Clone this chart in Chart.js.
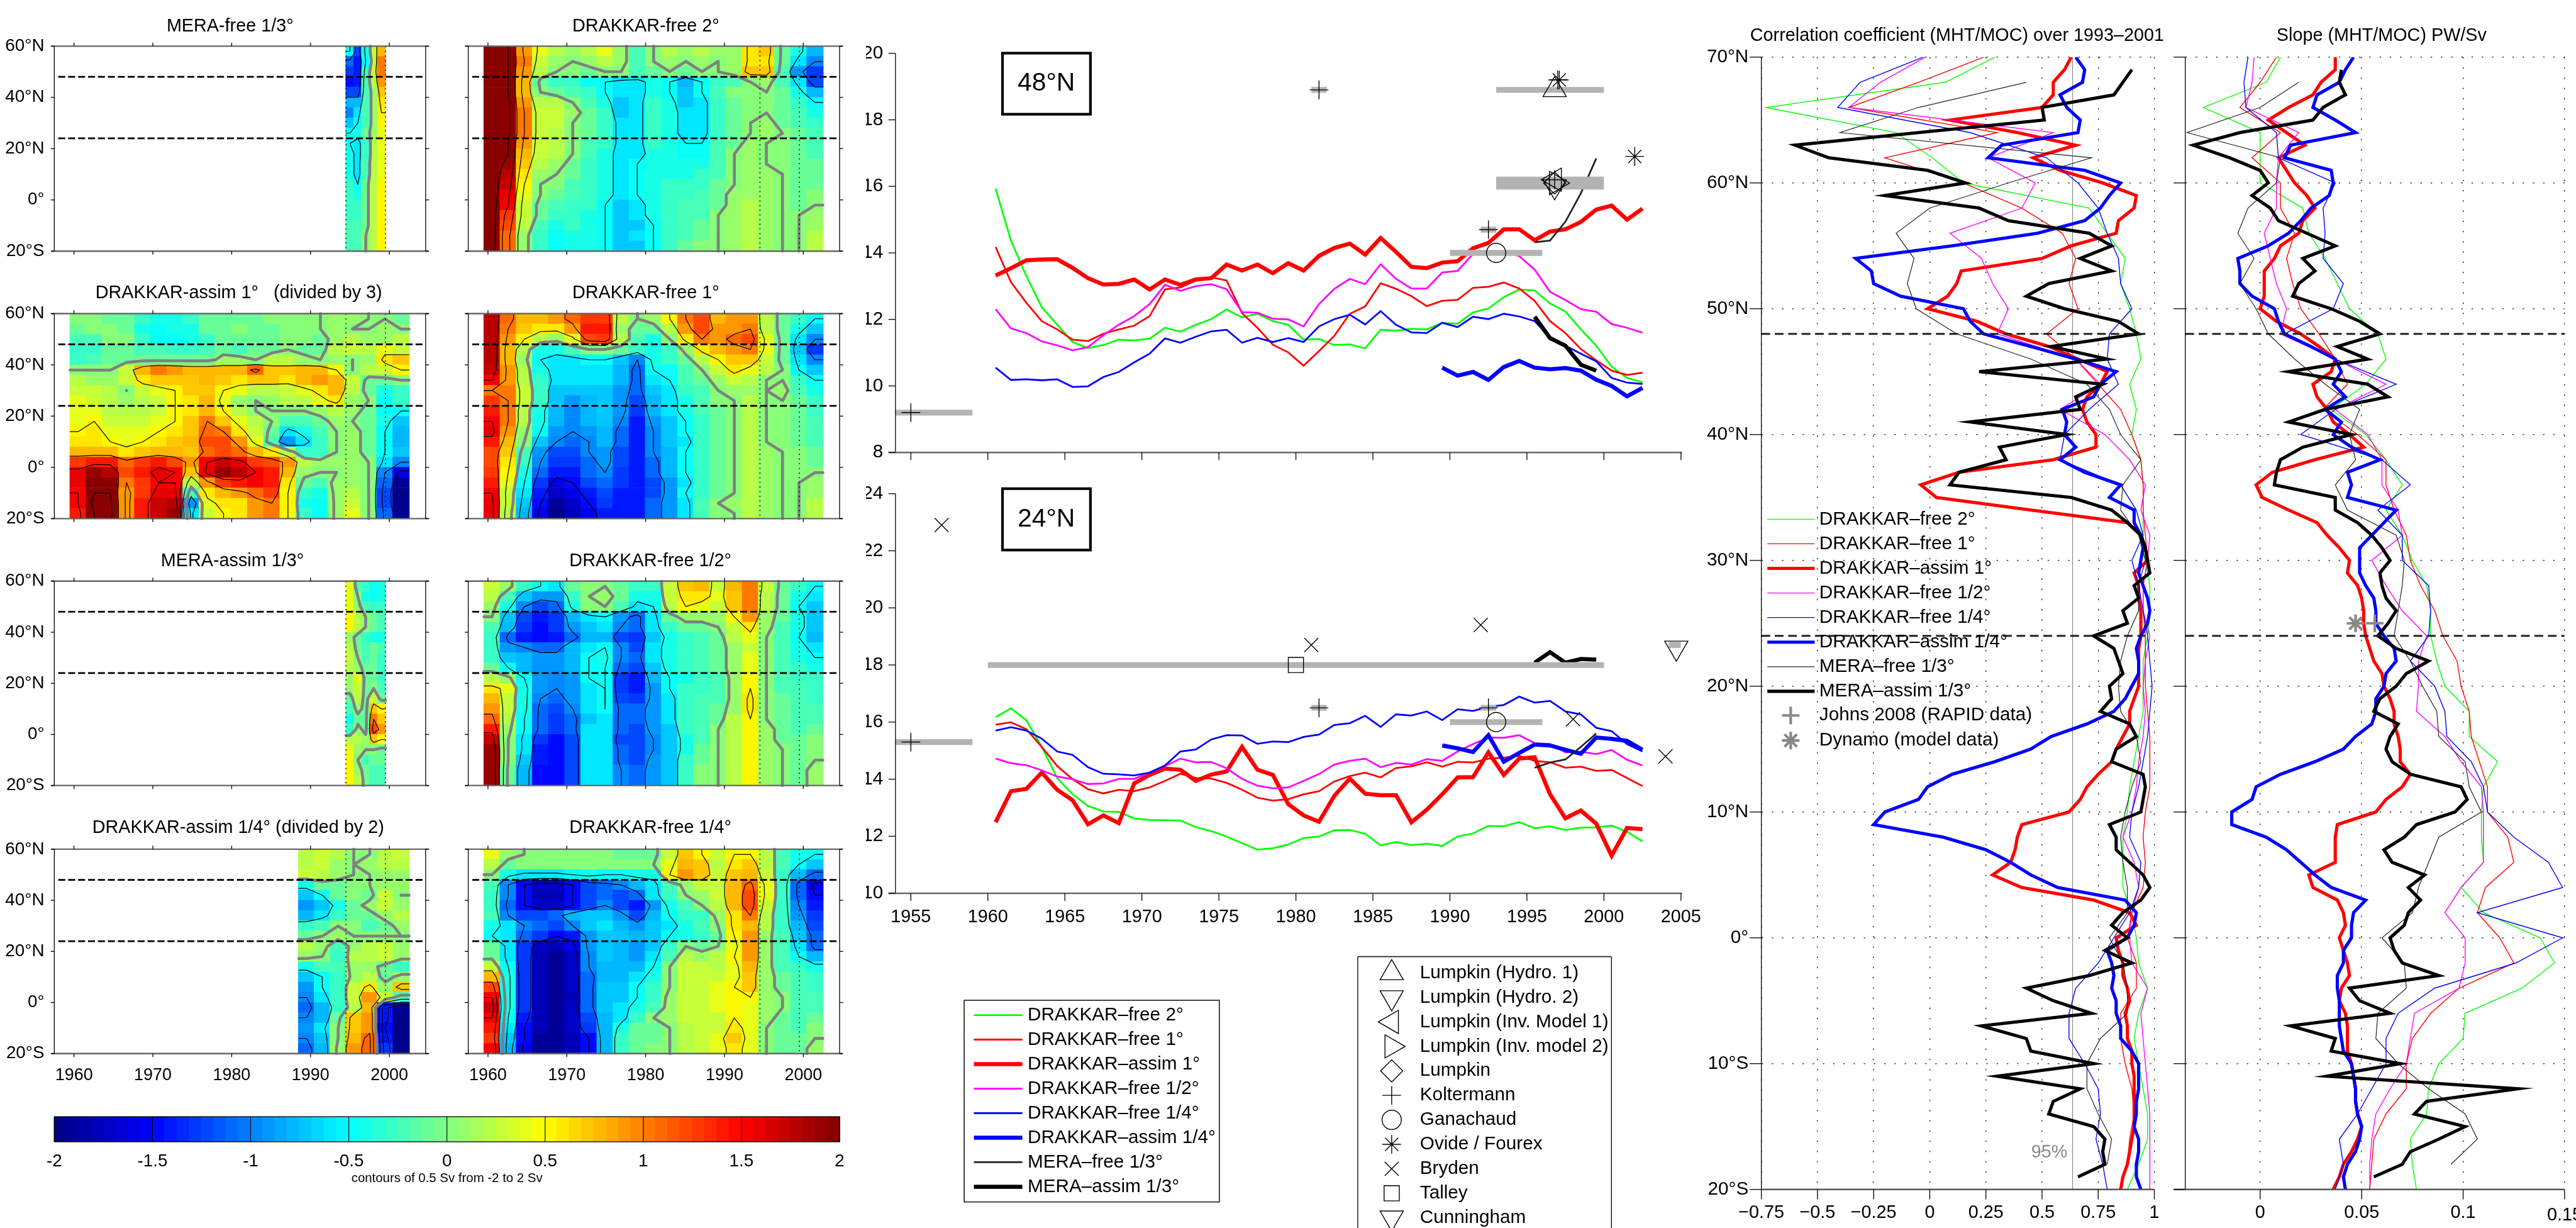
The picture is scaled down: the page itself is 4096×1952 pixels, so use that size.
<!DOCTYPE html>
<html><head><meta charset="utf-8">
<script src="https://cdn.jsdelivr.net/npm/chart.js@4/dist/chart.umd.js"></script>
<style>html,body{margin:0;background:#fff;overflow:hidden;width:4096px;height:1952px}canvas{position:absolute}</style>
</head><body>
<script>
// ---------- Heat-map values: tenths of Sv; rows run 58N,54N,...,18S ----------
const heatLats=[58,54,50,46,42,38,34,30,26,22,18,14,10,6,2,-2,-6,-10,-14,-18];
const heatFree2=[
[22,20,9,4,2,1,2,4,1,-2,0,2,1,2,1,1,6,7,-1,-4,-8],
[22,20,10,3,1,0,1,2,1,-2,0,1,0,1,0,1,6,6,-1,-6,-10],
[22,20,9,2,0,0,-1,0,0,-2,-1,0,-1,0,0,1,7,7,-2,-9,-13],
[22,20,8,-1,-3,-3,-5,-5,-6,-6,-4,-5,-8,-5,-3,-2,0,1,-2,-6,-12],
[22,20,8,0,-1,-2,-3,-5,-6,-6,-4,-5,-7,-5,-2,0,0,0,-1,-4,-8],
[22,21,9,2,2,0,-2,-4,-7,-6,-3,-4,-7,-6,-3,-1,0,0,-1,-3,-5],
[22,21,10,3,3,1,-1,-3,-7,-6,-3,-4,-6,-6,-3,-1,0,0,-1,-2,-4],
[22,21,10,3,3,0,-1,-3,-6,-6,-3,-4,-6,-6,-3,-1,0,1,-1,-2,-3],
[22,21,10,3,2,0,-1,-3,-6,-6,-3,-4,-6,-6,-3,-1,0,1,0,-1,-2],
[22,20,9,3,2,0,-2,-3,-6,-6,-3,-4,-5,-5,-2,-1,1,0,0,-1,-2],
[22,20,8,3,2,0,-2,-4,-6,-6,-4,-4,-5,-5,-2,0,1,0,0,-1,-2],
[22,19,7,2,1,-1,-3,-4,-6,-5,-4,-4,-4,-4,-2,0,1,0,0,-1,-1],
[22,18,6,1,0,-1,-3,-4,-6,-5,-4,-4,-4,-3,-2,0,1,1,0,-1,-1],
[22,17,5,0,0,-2,-3,-4,-6,-5,-4,-3,-3,-3,-1,0,1,1,0,-1,-1],
[22,16,4,0,-1,-2,-3,-4,-6,-5,-4,-3,-3,-2,-1,1,1,1,0,-1,0],
[22,15,3,-1,-2,-3,-3,-5,-7,-6,-4,-3,-2,-2,-1,1,2,1,0,-1,0],
[22,13,3,-1,-3,-3,-4,-5,-7,-6,-4,-3,-2,-2,0,1,2,1,0,0,1],
[22,12,2,-2,-4,-3,-4,-5,-7,-7,-5,-3,-2,-1,0,1,2,1,0,0,1],
[22,11,1,-3,-5,-4,-4,-5,-7,-6,-5,-3,-2,-1,0,1,2,1,0,0,2],
[22,11,1,-3,-5,-4,-4,-5,-7,-7,-5,-3,-1,0,0,1,2,1,0,0,2]];
const heatFree1=[
[18,11,8,8,9,11,13,13,2,0,1,5,10,12,8,9,9,2,-1,-3,-5],
[18,10,7,6,6,9,14,14,1,-1,-1,2,9,12,9,9,10,2,-1,-4,-7],
[18,9,5,2,1,4,12,13,2,-2,-4,0,6,10,9,11,12,4,-1,-6,-10],
[18,8,2,-4,-4,-2,0,0,-1,-3,-4,-3,1,6,8,9,10,4,-1,-7,-13],
[18,8,1,-5,-6,-6,-5,-5,-7,-10,-4,-3,-1,2,5,7,7,3,-1,-6,-10],
[17,9,2,-4,-6,-6,-6,-6,-8,-11,-5,-5,-2,0,3,6,4,2,0,-5,-7],
[15,9,2,-3,-6,-6,-6,-6,-8,-11,-6,-5,-2,-1,1,3,2,0,0,-3,-5],
[10,10,3,-3,-7,-7,-7,-7,-9,-11,-7,-6,-3,-2,0,1,1,0,1,-2,-4],
[13,10,3,-3,-7,-9,-8,-7,-9,-12,-8,-6,-4,-2,0,0,2,0,0,-1,-3],
[14,10,2,-4,-8,-10,-8,-7,-9,-13,-8,-6,-4,-2,-1,0,2,0,0,-1,-3],
[15,10,2,-4,-8,-10,-8,-7,-10,-14,-9,-7,-5,-3,-1,0,2,0,0,-1,-2],
[16,9,1,-5,-9,-10,-9,-8,-11,-14,-10,-7,-5,-3,-1,0,2,0,0,-1,-2],
[14,8,0,-7,-10,-11,-10,-8,-11,-14,-10,-7,-6,-3,-1,0,2,0,0,-1,-2],
[12,7,-2,-9,-12,-12,-10,-9,-12,-14,-10,-8,-5,-3,-1,0,2,1,0,0,-1],
[12,6,-3,-10,-13,-13,-11,-9,-12,-14,-11,-8,-5,-3,-1,0,2,1,0,0,-1],
[13,5,-4,-11,-14,-14,-11,-10,-13,-14,-11,-8,-5,-3,-1,0,2,1,0,0,0],
[14,4,-5,-13,-16,-15,-12,-11,-13,-14,-12,-9,-6,-3,-1,0,2,1,0,0,1],
[15,3,-6,-14,-17,-16,-14,-12,-14,-14,-12,-9,-5,-3,-1,0,2,1,0,0,1],
[16,3,-7,-15,-19,-17,-15,-13,-14,-14,-11,-9,-6,-2,0,1,2,1,0,0,2],
[16,2,-8,-16,-20,-18,-16,-14,-14,-14,-11,-9,-6,-2,0,0,2,1,0,0,2]];
const heatAssim1=[
[0,0,-1,-1,-3,-4,-4,-3,-1,-1,-1,-1,0,0,0,0,1,1,0,0,-1],
[-1,0,0,-1,-4,-5,-4,-4,-1,-1,0,-1,-1,0,0,0,1,0,0,1,0],
[-2,-2,0,0,-3,-5,-5,-4,-3,-1,-1,-1,-1,0,0,-1,1,2,1,1,2],
[-3,-3,-1,-1,-2,-2,-3,-3,-2,-1,-2,-1,-1,0,-1,-1,2,3,2,4,3],
[-3,-2,-1,-1,-1,-1,-1,-1,-1,1,1,0,2,2,1,0,1,0,1,6,7],
[0,0,0,3,8,10,9,8,8,8,8,11,7,7,8,8,5,0,2,3,5],
[2,1,1,3,6,7,7,7,8,7,6,7,7,6,8,9,8,3,-1,-1,0],
[3,3,2,0,3,4,5,7,7,5,4,2,2,3,4,6,8,2,-1,-4,-3],
[4,3,2,1,2,3,5,6,8,4,1,0,1,2,2,4,6,1,0,-5,-3],
[4,4,2,2,2,3,5,6,8,5,2,0,0,0,0,1,2,1,-1,-5,-5],
[4,5,3,3,3,4,5,7,10,7,4,2,0,-2,-2,-1,1,0,-1,-4,-7],
[5,6,4,4,4,5,6,7,11,10,6,3,-1,-6,-4,-2,0,1,-1,-5,-8],
[6,6,5,4,5,6,7,8,12,12,9,4,-2,-9,-6,-3,0,1,-1,-5,-8],
[8,8,8,6,7,8,8,7,11,12,11,8,6,2,-3,-3,0,1,-1,-5,-7],
[13,14,14,11,13,14,12,9,15,17,16,13,12,9,2,1,1,1,0,-6,-10],
[16,19,18,12,14,16,15,7,16,19,18,15,14,8,1,0,0,1,0,-10,-16],
[16,20,20,10,13,15,15,2,9,13,14,15,14,6,-1,-2,1,1,0,-11,-19],
[15,20,20,9,13,16,16,-3,6,8,9,11,13,5,-3,-4,1,2,0,-12,-20],
[15,21,21,9,14,17,18,-9,4,6,6,9,10,5,-4,-5,1,3,0,-12,-20],
[14,20,21,9,14,17,19,-6,3,5,6,9,10,5,-3,-5,1,4,0,-11,-19]];
const heatFree12=[
[3,1,-3,-5,-6,-1,0,0,-1,-3,-3,3,7,8,3,8,10,3,-1,-3,-5],
[2,-2,-7,-9,-9,-3,0,1,-1,-4,-4,3,6,6,4,7,10,2,-1,-4,-6],
[1,-4,-10,-12,-11,-4,0,0,-2,-6,-5,2,5,4,3,7,10,2,-1,-5,-7],
[0,-7,-12,-14,-13,-8,-6,-5,-9,-11,-6,-1,1,1,1,5,9,1,-1,-4,-7],
[-2,-8,-13,-15,-13,-9,-7,-6,-10,-11,-6,-3,-1,-1,0,3,6,1,-2,-4,-7],
[-3,-11,-14,-15,-14,-11,-8,-8,-12,-13,-7,-4,-3,-2,-1,2,4,0,-2,-5,-8],
[-3,-9,-10,-11,-11,-8,-6,-5,-10,-12,-6,-4,-3,-2,-1,1,3,0,-2,-4,-6],
[-3,-7,-8,-9,-9,-8,-5,-4,-10,-11,-6,-4,-3,-2,-1,1,4,0,-2,-4,-5],
[-1,-5,-8,-9,-9,-8,-5,-5,-11,-12,-7,-4,-3,-2,-1,1,4,0,-2,-3,-4],
[2,1,-5,-9,-10,-9,-5,-5,-13,-14,-8,-5,-4,-3,-2,1,5,0,-2,-3,-3],
[6,4,-4,-9,-10,-9,-6,-5,-13,-14,-9,-5,-3,-3,-2,1,5,0,-2,-2,-3],
[8,3,-4,-10,-11,-9,-6,-5,-12,-13,-9,-6,-3,-2,-2,1,6,0,-1,-2,-3],
[9,3,-4,-11,-12,-10,-6,-5,-11,-11,-9,-6,-3,-2,-1,1,6,0,-1,-2,-2],
[11,2,-5,-11,-13,-11,-7,-6,-11,-11,-9,-6,-3,-2,-1,2,5,0,-1,-2,-2],
[14,1,-5,-11,-13,-11,-6,-6,-11,-12,-9,-7,-3,-2,0,2,5,1,-1,-2,-1],
[17,0,-6,-13,-15,-12,-6,-6,-12,-12,-10,-7,-4,-2,0,2,5,1,-1,-1,0],
[19,0,-6,-14,-15,-12,-6,-6,-11,-12,-10,-7,-4,-1,0,2,5,1,0,-1,0],
[19,0,-7,-14,-15,-12,-6,-6,-11,-12,-9,-7,-3,-1,0,2,5,1,0,-1,0],
[19,-1,-8,-15,-15,-12,-6,-6,-10,-11,-9,-7,-3,0,0,2,5,1,0,-1,1],
[19,-1,-8,-15,-15,-12,-6,-6,-10,-11,-9,-7,-3,0,0,2,5,1,0,-1,1]];
const heatFree14=[
[4,1,0,0,0,0,0,0,-1,-1,-1,3,7,5,3,5,5,2,-2,-4,-5],
[2,-1,0,0,0,0,0,0,0,0,0,4,8,7,2,6,7,2,-2,-5,-7],
[0,-4,-6,-6,-6,-5,-4,-5,-5,-4,-4,5,9,7,3,7,8,3,-3,-8,-11],
[-2,-10,-15,-17,-17,-15,-12,-11,-10,-8,-6,-2,1,3,3,8,11,4,-3,-11,-16],
[-3,-10,-15,-18,-18,-15,-12,-11,-12,-11,-6,-3,0,1,3,8,12,4,-3,-11,-15],
[-3,-11,-15,-17,-17,-15,-12,-10,-12,-14,-9,-4,-2,0,2,8,12,3,-3,-10,-14],
[-2,-10,-12,-12,-11,-8,-7,-7,-9,-12,-8,-5,-3,-3,1,6,10,2,-3,-9,-13],
[-4,-6,-10,-11,-12,-10,-7,-6,-8,-9,-7,-6,-4,-2,0,6,8,2,-3,-8,-12],
[-5,-6,-11,-13,-15,-14,-9,-7,-7,-8,-7,-5,-4,-3,-1,5,9,1,-2,-7,-11],
[-1,-6,-13,-17,-18,-16,-9,-7,-8,-9,-7,-3,0,-1,0,4,9,1,-2,-6,-11],
[-1,-6,-13,-18,-19,-17,-10,-7,-8,-9,-6,-2,2,1,2,5,9,1,-2,-5,-8],
[3,-5,-13,-18,-19,-17,-10,-8,-8,-8,-5,0,3,3,2,4,8,1,-2,-3,-4],
[8,-4,-13,-18,-19,-17,-11,-8,-8,-6,-4,0,3,3,3,4,7,1,-1,-2,-3],
[12,-4,-13,-18,-19,-17,-11,-7,-7,-5,-3,0,3,3,4,5,7,1,-1,-2,-3],
[15,-4,-13,-18,-19,-18,-11,-7,-7,-5,-3,1,3,3,4,5,5,1,0,-2,-2],
[17,-4,-13,-18,-19,-17,-11,-7,-6,-4,-2,1,3,3,4,5,4,1,0,-2,-2],
[15,-5,-14,-18,-19,-17,-12,-8,-6,-3,0,1,3,3,3,5,4,1,-1,-2,-1],
[14,-6,-15,-18,-19,-17,-13,-8,-4,-1,-1,0,2,3,3,6,4,0,-1,-2,0],
[13,-7,-15,-19,-19,-18,-15,-8,-3,-1,-1,0,2,3,4,7,4,0,-1,-1,0],
[15,-8,-16,-19,-19,-18,-15,-8,-3,-1,0,0,2,3,4,6,4,0,-1,-1,1]];
const heatMeraFree=[[-5,-12,-4,3,8],[-11,-14,-5,2,10],[-13,-14,-3,3,10],[-15,-14,-2,2,9],[-12,-12,-2,1,7],[-8,-8,-2,1,6],[-10,-6,-2,1,5],[-7,-5,-2,1,5],[-5,-4,-1,1,4],[-5,-6,-3,2,4],[-4,-6,-3,2,4],[-4,-6,-2,2,4],[-4,-6,-2,2,4],[-3,-5,-1,2,5],[-3,-4,-1,2,5],[-3,-3,-1,2,5],[-3,-3,-1,2,5],[-2,-2,-1,2,5],[-2,-2,0,2,5],[-2,-2,0,2,5]];
const heatMeraAssim=[[4,-2,-3,-5,-4],[4,0,-4,-5,-4],[4,1,-2,-3,-3],[5,2,0,-1,-2],[5,2,0,-1,-2],[1,-1,-3,-4,-4],[2,-1,-2,-1,-2],[3,0,-2,-1,-3],[2,1,-1,-1,-3],[1,4,-1,-1,-3],[1,3,-1,0,-2],[-1,2,-1,3,-1],[-2,1,-1,7,5],[-4,-1,-1,10,7],[-3,1,-1,12,9],[2,2,1,7,5],[4,1,0,0,-1],[5,0,-2,-1,-1],[5,1,-1,-2,-2],[5,2,-1,-2,-2]];
const heatAssim14=[[2,3,2,0,0,2,3],[2,3,1,0,1,2,2],[3,2,1,0,0,1,1],[-4,-1,-1,0,0,1,1],[-7,-5,-1,0,-1,3,0],[-9,-7,-4,-1,1,3,1],[-8,-6,-3,-1,-1,1,2],[-3,-2,0,0,-2,-1,1],[-1,0,1,0,0,0,0],[2,1,-2,1,2,3,1],[1,0,-3,2,2,3,1],[-4,-2,-2,1,1,-1,-3],[-7,-5,-3,1,2,-1,1],[-9,-5,-3,3,6,1,7],[-10,-6,-3,3,9,3,-2],[-11,-8,-3,2,8,-14,-19],[-10,-8,-1,7,9,-14,-20],[-9,-6,0,7,9,-15,-20],[-10,-7,0,8,11,-14,-20],[-11,-8,1,9,11,-13,-20]];

// ---------- Overturning time series ----------
const at48Free2=[15.93,14.37,13.3,12.37,11.84,11.32,11.14,11.23,11.39,11.37,11.42,11.75,11.63,11.84,12.01,12.3,12.06,12.17,11.95,11.84,11.39,11.41,11.23,11.25,11.13,11.69,11.66,11.72,11.7,11.9,11.87,12.21,12.33,12.67,12.9,12.87,12.48,12.24,11.7,11.21,10.58,10.24,10.11];
const at48Free1=[14.18,13.12,12.5,11.95,11.7,11.39,11.35,11.57,11.7,11.81,12.1,12.9,12.96,13.17,13.27,13.17,12.19,11.75,11.24,11.01,10.61,11.05,11.51,12.17,12.39,13.09,12.92,12.7,12.4,12.56,12.59,12.95,12.98,13.11,12.93,12.56,11.95,11.59,11.11,10.77,10.46,10.33,10.4];
const at48Assim1=[13.32,13.54,13.78,13.8,13.81,13.55,13.24,13.05,13.07,13.2,12.9,13.2,13.04,13.2,13.24,13.65,13.47,13.65,13.39,13.69,13.47,13.91,14.15,14.28,13.95,14.45,14.03,13.58,13.54,13.71,13.75,14.14,14.3,14.71,14.71,14.38,14.64,14.71,14.93,15.3,15.42,15.0,15.33];
const at48Free12=[12.31,11.73,11.59,11.34,11.22,11.07,11.17,11.53,11.84,12.1,12.46,13.04,12.86,13.0,13.06,12.91,12.22,12.2,12.02,12.0,11.79,12.46,12.92,13.22,13.06,13.66,13.22,12.93,12.93,13.41,13.46,13.97,14.05,14.05,13.9,13.5,12.83,12.58,12.31,12.23,11.86,11.75,11.6];
const at48Free14=[10.55,10.18,10.2,10.17,10.2,9.97,9.99,10.27,10.42,10.71,10.97,11.43,11.3,11.48,11.64,11.69,11.3,11.45,11.32,11.44,11.32,11.79,12.01,12.14,11.85,12.25,11.84,11.61,11.59,11.9,11.77,12.08,12.01,12.17,12.09,11.95,11.45,11.21,10.97,10.74,10.24,10.1,10.06];
const at48Assim14=[10.55,10.31,10.42,10.18,10.57,10.75,10.55,10.5,10.54,10.46,10.19,10.0,9.69,9.94];
const at48MeraFree=[14.32,14.37,14.94,15.79,16.84];
const at48MeraAssim=[12.08,11.44,11.21,10.64,10.46];
const at24Free2=[16.17,16.48,16.06,15.13,14.04,13.47,13.06,12.87,12.85,12.62,12.57,12.56,12.55,12.32,12.18,11.99,11.76,11.53,11.58,11.71,11.94,11.99,12.21,12.22,12.09,11.68,11.8,11.69,11.74,11.66,11.99,12.1,12.36,12.35,12.5,12.28,12.35,12.22,12.3,12.31,12.37,12.16,11.82];
const at24Free1=[15.91,15.99,15.75,15.13,14.46,14.0,13.65,13.5,13.63,13.58,13.71,13.94,14.19,14.04,14.02,13.87,13.63,13.35,13.25,13.3,13.47,13.58,13.92,14.11,14.23,14.06,14.39,14.45,14.59,14.44,14.61,14.58,14.72,14.75,14.82,14.64,14.59,14.4,14.44,14.29,14.32,14.04,13.76];
const at24Assim1=[12.49,13.58,13.66,14.23,13.63,13.26,12.42,12.73,12.46,13.85,14.15,14.37,14.33,13.94,14.16,14.27,15.13,14.33,14.15,13.13,12.73,12.51,13.42,14.02,13.49,13.44,13.44,12.49,12.93,13.47,14.06,14.07,14.94,14.15,14.72,14.77,13.47,12.63,12.9,12.44,11.32,12.29,12.25];
const at24Free12=[14.72,14.56,14.49,14.31,14.09,14.0,13.83,13.85,14.01,14.01,14.23,14.46,14.72,14.59,14.6,14.38,14.01,13.77,13.68,13.71,13.94,14.18,14.51,14.64,14.72,14.42,14.57,14.51,14.7,14.64,14.97,15.23,15.46,15.45,15.54,15.26,15.23,14.94,14.96,14.88,15.02,14.68,14.48];
const at24Free14=[15.7,15.82,15.7,15.42,14.97,14.85,14.42,14.19,14.17,14.13,14.23,14.48,14.97,15.04,15.39,15.54,15.53,15.24,15.32,15.3,15.48,15.56,15.9,15.96,16.22,15.83,16.27,16.23,16.37,16.07,16.45,16.39,16.53,16.6,16.89,16.68,16.74,16.37,16.27,15.8,15.68,15.23,14.97];
const at24Assim14=[15.18,15.08,14.95,15.54,14.61,14.92,15.21,15.18,15.03,14.89,15.46,15.41,15.34,15.03];
const at24MeraFree=[14.4,14.58,14.69,15.13,15.6];
const at24MeraAssim=[18.08,18.45,18.08,18.21,18.19];

// ---------- Observation estimates: [year start, year end, Sv, thickness class] and markers ----------
const bars48=[[1954,1959,9.2,10],[1981,1982,18.9,10],[1993,2000,18.9,10],[1993,2000,16.1,22],[1992,1993,14.7,10],[1990,1996,14.0,10]];
const bars24=[[1954,1959,15.3,10],[1960,2000,18.0,10],[1981,1982,16.5,10],[1992,1993,16.5,10],[1990,1996,16.0,10],[2004.2,2005,18.7,10]];
const marks48={hydro1:[[1996.8,18.9]],hydro2:[[1996.8,16.0]],inv1:[[1996.8,16.2]],inv2:[[1996.9,16.1]],lump:[[1996.8,16.1]],kolt:[[1955,9.2],[1981.5,18.9],[1992.5,14.7],[1997,19.2],[1996.8,16.2]],gana:[[1993,14.0]],ovide:[[1997.1,19.2],[2002,16.9]]};
const marks24={kolt:[[1955,15.3],[1981.5,16.5],[1992.5,16.5]],gana:[[1993,16.0]],bry:[[1957,22.9],[1981,18.7],[1992,19.4],[1998,16.1],[2004,14.8]],talley:[[1980,18.0]],cunn:[[2004.7,18.6]]};

// ---------- Profiles ----------
const corrFree2=[.29,.07,-.73,-.15,.01,.15,.71,.79,.87,.85,.89,.92,.94,.89,.92,.90,.94,.95,.95,.95,.96,.98,.98,.97,.95,.95,.95,.93,.91,.89,.88,.86,.86,.86,.90,.92,.93,.97,.93,.91,.93,.95,.97,.97,.93,.88];
const corrFree1=[.24,-.05,-.36,.30,-.20,.15,.41,.59,.65,.62,.66,.52,.65,.75,.85,.90,.94,.95,.95,.96,.97,.95,.95,.96,.96,.96,.97,.98,.98,.98,.96,.95,.96,.95,.90,.88,.92,.92,.85,.85,.87,.90,.91,.89,.88,.85];
const corrFree12=[-.02,-.22,-.36,.55,.26,.47,.41,.09,.23,.28,.35,.30,.65,.76,.58,.78,.89,.96,.94,.98,.97,.95,.95,.98,.96,.95,.96,.95,.93,.92,.90,.86,.91,.93,.90,.89,.90,.97,.94,.95,.96,.97,.98,.98,.98,.98];
const corrFree14=[-.03,-.31,-.41,.18,.52,.66,.75,.79,.84,.85,.90,.80,.79,.84,.71,.60,.58,.85,.92,.95,.90,.93,.95,.97,.98,.99,.98,.97,.95,.93,.90,.89,.94,.93,.89,.82,.75,.65,.62,.62,.69,.75,.76,.74,.77,.79];
const corrMeraFree=[null,.43,-.05,-.40,.72,.35,.00,-.15,-.07,-.10,-.06,.12,.45,.70,.80,.85,.94,.86,.85,.93,.96,.93,.93,.88,.85,.84,.85,.92,.94,.90,.87,.85,.86,.88,.88,.80,.86,.88,.88,.76,.70,.70,.75,.81,.79,null];
const corrAssim1=[.63,.60,.55,.55,.50,.09,.39,.65,.46,.58,
.77,.92,.91,.84,.83,.63,.50,.14,.12,.08,
-.01,.21,.34,.53,.66,.79,.76,.70,.68,.70,
.74,.74,.55,.13,-.04,.03,.45,.88,.94,.96,
.97,.91,.93,.93,.94,.94,.94,.93,.93,.93,
.93,.91,.89,.89,.86,.83,.81,.75,.70,.67,
.62,.41,.39,.38,.36,.28,.41,.73,.89,.92,
.83,.84,.86,.86,.88,.89,.87,.88,.88,.90,
.90,.91,.91,.91,.91,.91,.90,.89,.88,.86,.85];
const corrAssim14=[.65,.69,.68,.58,.61,.67,.66,.32,.26,.69,
.85,.80,.76,.69,.48,.10,-.33,-.26,-.25,-.13,
.15,.18,.24,.45,.65,.83,.76,.73,.59,.61,
.60,.65,.58,.69,.85,.80,.91,.91,.94,.95,
.94,.93,.95,.97,.98,.97,.94,.92,.93,.93,
.90,.87,.82,.70,.54,.45,.29,.10,-.01,-.05,
-.20,-.25,.06,.25,.36,.45,.57,.87,.92,.91,
.88,.79,.81,.82,.81,.83,.83,.85,.85,.90,
.93,.93,.93,.92,.92,.91,.93,.93,.92,.92,.94];
const corrMeraAssim=[null,.90,.86,.82,.50,.51,-.05,-.60,-.45,-.01,
.16,-.20,.22,.35,.71,.81,.67,.81,.53,.43,
.60,.84,.93,.54,.79,.22,.77,.65,.67,.18,
.61,.31,.34,.13,.09,.63,.81,.88,.94,.96,
.97,.98,.91,.93,.86,.88,.73,.82,.84,.86,
.80,.81,.76,.89,.92,.83,.81,.95,.96,.95,
.94,.80,.83,.83,.89,.95,.98,.94,.86,.81,
.88,.78,.90,.71,.43,.55,.72,.23,.43,.45,
.73,.30,.67,.55,.53,.73,.78,.77,.78,.66,null];
const slopeFree2=[.010,.003,-.028,0,0,0,.021,.024,.032,.038,.044,.058,.062,.052,.035,.052,.062,.070,.062,.070,.075,.082,.084,.084,.087,.091,.103,.103,.117,.110,.109,.109,.110,.099,.110,.138,.145,.129,.101,.100,.088,.083,.082,.074,.075,.077];
const slopeFree1=[.008,0,-.010,.010,-.004,.010,.010,.017,.013,.016,.020,.029,.037,.043,.031,.048,.062,.062,.066,.072,.074,.079,.086,.090,.097,.099,.103,.104,.108,.112,.112,.122,.125,.111,.107,.118,.125,.098,.084,.075,.072,.072,.062,.056,.055,.054];
const slopeFree12=[-.003,-.004,-.007,.019,.009,.008,.008,.002,.005,.008,.013,.010,.037,.062,.037,.053,.060,.060,.068,.070,.055,.062,.070,.082,.078,.078,.077,.091,.099,.109,.110,.110,.110,.099,.091,.101,.101,.098,.076,.074,.072,.064,.057,.055,.054,.054];
const slopeFree14=[-.006,-.008,-.007,.008,.009,.037,.031,.032,.031,.041,.036,.012,.037,.067,.037,.020,.060,.074,.058,.070,.070,.083,.084,.083,.074,.086,.091,.092,.104,.110,.112,.125,.142,.149,.107,.149,.126,.086,.068,.062,.062,.055,.048,.039,.041,.037];
const slopeMeraFree=[null,.019,0,-.036,.010,.008,-.006,-.011,-.003,-.010,-.002,.004,.017,.032,.049,.044,.047,.037,.043,.067,.071,.070,.068,.066,.074,.080,.087,.088,.101,.103,.109,.088,.083,.078,.075,.060,.071,.072,.058,.057,.068,.083,.101,.107,.094,null];
const slopeAssim1=[.037,.037,.030,.026,.014,.004,.013,.022,.009,.013,
.017,.023,.027,.021,.019,.010,.007,.002,.002,.002,
.000,.008,.020,.029,.037,.035,.026,.028,.033,.036,
.044,.051,.027,.006,-.002,.001,.014,.028,.033,.039,
.044,.043,.048,.050,.051,.051,.052,.054,.056,.060,
.061,.064,.066,.066,.068,.069,.069,.074,.070,.062,
.057,.038,.037,.037,.037,.024,.026,.038,.041,.042,
.039,.041,.043,.044,.040,.039,.042,.043,.043,.043,
.045,.046,.047,.047,.048,.050,.048,.045,.041,.039,.036];
const slopeAssim14=[.046,.042,.039,.028,.026,.037,.047,.015,.012,.035,
.036,.034,.025,.020,.014,.004,-.011,-.010,-.010,-.004,
.007,.009,.012,.025,.037,.040,.036,.042,.032,.040,
.036,.045,.059,.043,.045,.043,.067,.061,.055,.049,
.049,.049,.052,.056,.057,.057,.061,.066,.067,.062,
.061,.057,.057,.055,.047,.041,.027,.010,-.002,-.004,
-.014,-.014,.003,.013,.020,.027,.035,.052,.046,.045,
.045,.041,.041,.038,.038,.039,.039,.039,.040,.041,
.045,.046,.047,.047,.048,.050,.049,.047,.043,.041,.042];
const slopeMeraAssim=[null,.040,.039,.042,.031,.026,-.010,-.033,-.015,0,
.004,-.004,.005,.009,.023,.037,.021,.027,.019,.016,
.035,.049,.059,.038,.053,.014,.053,.063,.032,.014,
.045,.021,.010,.008,.007,.037,.037,.048,.055,.060,
.064,.059,.060,.062,.067,.063,.058,.067,.083,.072,
.067,.059,.056,.068,.064,.062,.065,.074,.099,.102,
.096,.077,.071,.061,.065,.081,.073,.079,.073,.071,
.064,.066,.070,.088,.044,.049,.064,.015,.037,.035,
.069,.033,.127,.082,.076,.101,.088,.074,.070,.056,null];
const johnsSlope=[[.0565,25]], dynamoSlope=[[.047,25]];
const signif95=.636;

// ---------- Labels and ticks ----------
const seriesNames=['DRAKKAR–free 2°','DRAKKAR–free 1°','DRAKKAR–assim 1°','DRAKKAR–free 1/2°','DRAKKAR–free 1/4°','DRAKKAR–assim 1/4°','MERA–free 1/3°','MERA–assim 1/3°'];
const markerNames=['Lumpkin (Hydro. 1)','Lumpkin (Hydro. 2)','Lumpkin (Inv. Model 1)','Lumpkin (Inv. model 2)','Lumpkin','Koltermann','Ganachaud','Ovide / Fourex','Bryden','Talley','Cunningham'];
const yearTicks=[1960,1970,1980,1990,2000], latTicks=[60,40,20,0,-20], midTicks=[1955,1960,1965,1970,1975,1980,1985,1990,1995,2000,2005];
const profileLatTicks=[70,60,50,40,30,20,10,0,-10,-20];
const corrTicks=[-.75,-.5,-.25,0,.25,.5,.75,1], slopeTicks=[0,.05,.1,.15], barTicks=[-2,-1.5,-1,-.5,0,.5,1,1.5,2];

// ---------- Helpers (layout and styles only) ----------
const S=4096/4412, FONT='"Liberation Sans"';
Chart.defaults.font.family=FONT; Chart.defaults.color='#000'; Chart.defaults.animation=false;
const colours=['#00ff00','#ff0000','#ff0000','#ff00ff','#0000ff','#0000ff','#222222','#000000'];
const isThick=[0,0,1,0,0,1,0,1];
const MK={hydro1:{s:'triangle',r:23,rot:0},hydro2:{s:'triangle',r:23,rot:180},inv1:{s:'triangle',r:23,rot:-90},inv2:{s:'triangle',r:23,rot:90},lump:{s:'rectRot',r:19,rot:0},kolt:{s:'cross',r:16,rot:0},gana:{s:'circle',r:16.5,rot:0},ovide:{s:'star',r:16,rot:0},bry:{s:'crossRot',r:17,rot:0},talley:{s:'rect',r:18.4,rot:0},cunn:{s:'triangle',r:23,rot:180}};
const markerKeys=['hydro1','hydro2','inv1','inv2','lump','kolt','gana','ovide','bry','talley','cunn'];
const stops=[[-2,0,0,128],[-1.5,0,0,255],[-1,0,128,255],[-.5,0,255,255],[0,128,255,128],[.5,255,255,0],[1,255,128,0],[1.5,255,0,0],[2,128,0,0]];
function jet(v){v=Math.max(-2,Math.min(2,v));v=Math.min(1.9999,v);v=-2+(Math.floor((v+2)*16)+.5)/16;
 for(let i=0;i<8;i++){const a=stops[i],b=stops[i+1];if(v<=b[0]){const t=(v-a[0])/(b[0]-a[0]);return `rgb(${a.slice(1).map((c,k)=>Math.round(c+(b[k+1]-c)*t)).join(',')})`;}}}
function axis(min,max,ticks,fmt,pad,size,showLabels){return {type:'linear',min,max,
 afterBuildTicks:s=>{s.ticks=ticks.map(v=>({value:v}));},
 grid:{display:false,drawTicks:false},border:{display:false},
 ticks:{display:showLabels,autoSkip:false,maxRotation:0,minRotation:0,padding:pad*S,font:{size:size*S},callback:fmt}};}
function mk(area,m,cfg,over){
 const [l,t,r,b]=area,[ml,mt,mr,mb]=m;
 const cv=document.createElement('canvas');
 const L=Math.round((l-ml)*S),T=Math.round((t-mt)*S),W=Math.round((r+mr)*S)-L,H=Math.round((b+mb)*S)-T;
 cv.width=W;cv.height=H;cv.style.cssText=`left:${L}px;top:${T}px;width:${W}px;height:${H}px`;
 document.body.appendChild(cv);
 const rx=x=>x*S-L,ry=y=>y*S-T;
 const o=cfg.options;
 o.responsive=false;o.maintainAspectRatio=false;o.devicePixelRatio=1;o.events=[];o.animation=false;
 o.layout={padding:{top:ry(t),right:W-rx(r),left:0,bottom:0}};
 o.plugins={legend:{display:false},tooltip:{enabled:false},title:{display:false}};
 o.scales.x.afterFit=s=>{s.height=H-ry(b);s.paddingLeft=s.paddingRight=s.paddingTop=s.paddingBottom=0;};
 o.scales.y.afterFit=s=>{s.width=rx(l);s.paddingLeft=s.paddingRight=s.paddingTop=s.paddingBottom=0;};
 cfg.plugins=(cfg.plugins||[]).concat([{id:'over',afterDraw(c){over&&over(c.ctx,c,rx,ry);}}]);
 return new Chart(cv,cfg);
}
function text(ctx,t,x,y,size,align='center',color='#000'){ctx.save();ctx.font=`${size*S}px ${FONT}`;ctx.fillStyle=color;ctx.textAlign=align;ctx.textBaseline='middle';ctx.fillText(t,x,y);ctx.restore();}
function seg(ctx,x0,y0,x1,y1,w,c,dash){ctx.save();ctx.beginPath();ctx.strokeStyle=c;ctx.lineWidth=w*S;ctx.setLineDash(dash||[]);ctx.moveTo(x0,y0);ctx.lineTo(x1,y1);ctx.stroke();ctx.restore();}
const line=(pts,color,w,order,extra)=>Object.assign({type:'scatter',showLine:true,data:pts.filter(p=>p[0]!=null&&p[1]!=null).map(p=>({x:p[0],y:p[1]})),borderColor:color,backgroundColor:color,borderWidth:w*S,pointRadius:0,order,borderCapStyle:'butt',borderJoinStyle:'miter',spanGaps:true},extra||{});
const markDs=(key,pts,color='#000',bw=1.5)=>({type:'scatter',showLine:false,clip:false,data:pts.map(p=>({x:p[0],y:p[1]})),pointStyle:MK[key].s,pointRadius:MK[key].r*S,pointRotation:MK[key].rot,pointBorderColor:color,pointBackgroundColor:'rgba(0,0,0,0)',pointBorderWidth:bw*S,order:0});

// ---------- Heat panels ----------
function contourLevel(ctx,xs,ys,G,l){
 ctx.beginPath();
 for(let r=0;r<ys.length-1;r++)for(let c=0;c<xs.length-1;c++){
  const a=G[r][c],b=G[r][c+1],d=G[r+1][c],e=G[r+1][c+1];
  const k=(a>=l?8:0)|(b>=l?4:0)|(e>=l?2:0)|(d>=l?1:0);
  if(k===0||k===15)continue;
  const T=[xs[c]+(xs[c+1]-xs[c])*(l-a)/(b-a||1),ys[r]],Bt=[xs[c]+(xs[c+1]-xs[c])*(l-d)/(e-d||1),ys[r+1]],
   Lf=[xs[c],ys[r]+(ys[r+1]-ys[r])*(l-a)/(d-a||1)],R=[xs[c+1],ys[r]+(ys[r+1]-ys[r])*(l-b)/(e-b||1)];
  const sg=(p,q)=>{ctx.moveTo(p[0],p[1]);ctx.lineTo(q[0],q[1]);};
  switch(k){case 1:case 14:sg(Lf,Bt);break;case 2:case 13:sg(Bt,R);break;case 3:case 12:sg(Lf,R);break;case 4:case 11:sg(T,R);break;
   case 5:sg(Lf,T);sg(Bt,R);break;case 6:case 9:sg(T,Bt);break;case 7:case 8:sg(Lf,T);break;case 10:sg(T,R);sg(Lf,Bt);break;}
 }
 ctx.stroke();
}
function heatPanel(title,titleX,titleY,area,rows,x0,w,showX){
 const left=area[0]<400, ml=left?93:30;
 const cells=[],cols=[];
 rows.forEach((row,r)=>row.forEach((v,c)=>{cells.push({x:x0+(c+.5)*w,y:[heatLats[r]-2,heatLats[r]+2]});cols.push(jet(v/10));}));
 const fmtX=v=>String(v), fmtY=v=>v===0?'0°':v>0?v+'°N':(-v)+'°S';
 const pxPerYear=(area[2]-area[0])/(2004.6-1957.5);
 mk(area,[ml,50,20,64],{type:'bar',data:{datasets:[
   {type:'bar',data:cells,backgroundColor:cols,borderWidth:0,barThickness:Math.ceil(w*pxPerYear*S)+.5,order:9},
   line([[1958,48],[2004.6,48]],'#000',3,1,{borderDash:[12*S,5*S]}),
   line([[1958,24],[2004.6,24]],'#000',3,1,{borderDash:[12*S,5*S]}),
   line([[1994.5,60],[1994.5,-20]],'#000',1.6,1,{borderDash:[2*S,6*S]}),
   line([[1999.5,60],[1999.5,-20]],'#000',1.6,1,{borderDash:[2*S,6*S]})
  ]},
  options:{scales:{x:Object.assign(axis(1957.5,2004.6,yearTicks,fmtX,20,29,showX),{offset:false,stacked:false}),y:axis(-20,60,latTicks,fmtY,17,30,left)}},
  plugins:[{id:'contours',afterDatasetDraw(c,args){
    if(args.index!==0)return;
    const ctx=c.ctx,xS=c.scales.x,yS=c.scales.y;
    const n=rows[0].length;
    const xs=[xS.getPixelForValue(x0)];for(let i=0;i<n;i++)xs.push(xS.getPixelForValue(x0+(i+.5)*w));xs.push(xS.getPixelForValue(x0+n*w));
    const ys=[yS.getPixelForValue(60)];heatLats.forEach(v=>ys.push(yS.getPixelForValue(v)));ys.push(yS.getPixelForValue(-20));
    const ext=r=>[r[0],...r,r[n-1]];
    const G=[ext(rows[0]),...rows.map(ext),ext(rows[rows.length-1])];
    ctx.save();ctx.lineCap='round';ctx.lineJoin='round';
    ctx.strokeStyle='#000';ctx.lineWidth=1.3*S;[-20,-15,-10,-5,5,10,15,20].forEach(l=>contourLevel(ctx,xs,ys,G,l-(l<0?.01:-.01)));
    ctx.strokeStyle='#808080';ctx.lineWidth=5*S;contourLevel(ctx,xs,ys,G,.01);
    ctx.restore();
  }}]},
  (ctx,c,rx,ry)=>{
   const a=c.chartArea,xS=c.scales.x,yS=c.scales.y,e=5*S;
   seg(ctx,a.left-e,a.top,a.right+e,a.top,2.6,'#666');seg(ctx,a.left-e,a.bottom,a.right+e,a.bottom,2.6,'#666');
   seg(ctx,a.left,a.top,a.left,a.bottom,1.4,'#000');seg(ctx,a.right,a.top,a.right,a.bottom,1.4,'#000');
   yearTicks.forEach(v=>{const x=xS.getPixelForValue(v);seg(ctx,x,a.top,x,a.top-6*S,1.4,'#000');seg(ctx,x,a.bottom,x,a.bottom+6*S,1.4,'#000');});
   latTicks.forEach(v=>{const y=yS.getPixelForValue(v);seg(ctx,a.left,y,a.left-6*S,y,1.4,'#000');seg(ctx,a.right,y,a.right+6*S,y,1.4,'#000');});
   text(ctx,title,rx(titleX),ry(titleY),31);
  });
}
const C1=[93,729],C2=[802,1438],R=[[79,430],[537,888],[995,1345],[1454,1804]];
heatPanel('MERA-free 1/3°',394,45,[C1[0],R[0][0],C1[1],R[0][1]],heatMeraFree,1994.5,1,false);
heatPanel('DRAKKAR-free 2°',1106,45,[C2[0],R[0][0],C2[1],R[0][1]],heatFree2,1959.5,43/21,false);
heatPanel('DRAKKAR-assim 1°   (divided by 3)',409,502,[C1[0],R[1][0],C1[1],R[1][1]],heatAssim1,1959.5,43/21,false);
heatPanel('DRAKKAR-free 1°',1106,502,[C2[0],R[1][0],C2[1],R[1][1]],heatFree1,1959.5,43/21,false);
heatPanel('MERA-assim 1/3°',398,961,[C1[0],R[2][0],C1[1],R[2][1]],heatMeraAssim,1994.5,1,false);
heatPanel('DRAKKAR-free 1/2°',1114,961,[C2[0],R[2][0],C2[1],R[2][1]],heatFree12,1959.5,43/21,false);
heatPanel('DRAKKAR-assim 1/4° (divided by 2)',408,1418,[C1[0],R[3][0],C1[1],R[3][1]],heatAssim14,1988.5,2,true);
heatPanel('DRAKKAR-free 1/4°',1114,1418,[C2[0],R[3][0],C2[1],R[3][1]],heatFree14,1959.5,43/21,true);

// ---------- Colour bar ----------
(function(){
 const levels=[];for(let i=0;i<64;i++)levels.push(-2+(i+.5)/16);
 mk([93,1912,1438,1955],[50,6,50,76],{type:'bar',data:{datasets:[{type:'bar',data:levels.map(v=>({x:v,y:[0,1]})),backgroundColor:levels.map(jet),borderWidth:0,barThickness:Math.ceil(1345/64*S)+.5}]},
  options:{scales:{x:Object.assign(axis(-2,2,barTicks,v=>String(v),16,30,true),{offset:false,title:{display:true,text:'contours of 0.5 Sv from -2 to 2 Sv',font:{size:22*S},padding:0}}),y:axis(0,1,[],v=>'',0,10,false)}}},
  (ctx,c)=>{const a=c.chartArea,xS=c.scales.x;ctx.save();ctx.strokeStyle='#000';ctx.lineWidth=1.4*S;ctx.strokeRect(a.left,a.top,a.right-a.left,a.bottom-a.top);ctx.restore();
   barTicks.forEach(v=>{const x=xS.getPixelForValue(v);seg(ctx,x,a.top,x,a.bottom,1.2,'#000');});});
})();

// ---------- Mid panels ----------
function midPanel(area,ymin,ymax,yticks,series,bars,marks,showX,boxLabel,boxTop,boxBottom,mb){
 const ds=[];
 series.forEach((sr,i)=>{const n=sr.length,first=n===43?1960.5:n===14?1989.5:1995.5;
  ds.push(line(sr.map((v,k)=>[first+k,v]),colours[i],isThick[i]?7:3,2+(7-i)));});
 bars.forEach(b=>ds.push(line([[b[0],b[2]],[b[1],b[2]]],'#b3b3b3',b[3],1)));
 Object.keys(marks).forEach(k=>ds.push(markDs(k,marks[k])));
 mk(area,[50,20,50,mb],{type:'scatter',data:{datasets:ds},
  options:{scales:{x:axis(1954,2005,midTicks,v=>String(v),22,31,showX),y:axis(ymin,ymax,yticks,v=>String(v),21,32,true)}}},
  (ctx,c,rx,ry)=>{const a=c.chartArea,xS=c.scales.x,yS=c.scales.y;
   seg(ctx,a.left,a.top,a.left,a.bottom,1.4,'#000');
   seg(ctx,a.left-12*S,a.bottom,a.right+2*S,a.bottom,2.8,'#666');
   midTicks.forEach(v=>{const x=xS.getPixelForValue(v);seg(ctx,x,a.bottom,x,a.bottom+13*S,1.4,'#000');});
   yticks.forEach(v=>{const y=yS.getPixelForValue(v);seg(ctx,a.left,y,a.left-12*S,y,1.4,'#000');});
   ctx.save();ctx.strokeStyle='#000';ctx.lineWidth=4.5*S;ctx.strokeRect(rx(1717),ry(boxTop),(1867.6-1717)*S,(boxBottom-boxTop)*S);ctx.restore();
   text(ctx,boxLabel,rx(1792),ry((boxTop+boxBottom)/2),44);
  });
}
midPanel([1533.7,86.4,2879,775.7],8,20,[8,10,12,14,16,18,20],[at48Free2,at48Free1,at48Assim1,at48Free12,at48Free14,at48Assim14,at48MeraFree,at48MeraAssim],bars48,marks48,false,'48°N',91,195.6,24);
midPanel([1533.7,840.3,2879,1529.6],10,24,[10,12,14,16,18,20,22,24],[at24Free2,at24Free1,at24Assim1,at24Free12,at24Free14,at24Assim14,at24MeraFree,at24MeraAssim],bars24,marks24,true,'24°N',836.7,941.8,70);

// ---------- Middle legends ----------
const noScale=()=>({x:axis(0,1,[],v=>'',0,10,false),y:axis(0,1,[],v=>'',0,10,false)});
mk([1651.4,1712.7,2088.4,2058],[4,4,4,4],{type:'scatter',data:{datasets:[]},options:{scales:noScale()}},(ctx,c,rx,ry)=>{
 ctx.save();ctx.strokeStyle='#222';ctx.lineWidth=1.8*S;ctx.strokeRect(rx(1651.4),ry(1712.7),(2088.4-1651.4)*S,(2058-1712.7)*S);ctx.restore();
 seriesNames.forEach((n,i)=>{const y=ry(1738+i*42);seg(ctx,rx(1668),y,rx(1751),y,isThick[i]?7:3,colours[i]);text(ctx,n,rx(1760),y,32,'left');});
});
mk([2325.5,1638,2760,2103],[6,4,6,0],{type:'scatter',data:{datasets:[]},options:{scales:noScale()}},(ctx,c,rx,ry)=>{
 seg(ctx,rx(2325.5),ry(1638),rx(2760),ry(1638),1.8,'#222');
 seg(ctx,rx(2325.5),ry(1638),rx(2325.5),ry(2103),1.4,'#000');seg(ctx,rx(2760),ry(1638),rx(2760),ry(2103),1.4,'#000');
 markerNames.forEach((n,i)=>{const y=ry(1666+i*41.9),m=MK[markerKeys[i]];
  ctx.save();ctx.strokeStyle='#000';ctx.fillStyle='rgba(0,0,0,0)';ctx.lineWidth=1.5*S;
  Chart.helpers.drawPoint(ctx,{pointStyle:m.s,radius:m.r*S,rotation:m.rot,borderWidth:1.5*S},rx(2383.6),y);ctx.restore();
  text(ctx,n,rx(2432),y,32,'left');});
});

// ---------- Profile panels ----------
const lat1=[];for(let v=70;v>=-20;v--)lat1.push(v);
const lat2=[];for(let v=70;v>=-20;v-=2)lat2.push(v);
function prof(vals,i,lats){return line(vals.map((v,k)=>[v,lats[k]]),colours[i],isThick[i]?5.5:(i===6?1.3:1.5),2+(7-i));}
const latFmt=v=>v===0?'0°':v>0?v+'°N':(-v)+'°S';
function dotted(a){const o=a;o.grid={display:true,drawTicks:false,color:'#333',lineWidth:1.6*S};o.border={display:false,dash:[2.5*S,15*S]};return o;}
const dashPts=(a,b,l)=>line([[a,l],[b,l]],'#222',3.4,1,{borderDash:[15*S,8*S]});
mk([3016.7,97.8,3689.8,2036.6],[114,70,26,66],{type:'scatter',data:{datasets:[
  dashPts(-.75,.96,48),dashPts(-.75,.96,24),
  line([[signif95,70],[signif95,-20]],'#8a8a8a',1.3,11),
  prof(corrFree2,0,lat2),prof(corrFree1,1,lat2),prof(corrAssim1,2,lat1),prof(corrFree12,3,lat2),prof(corrFree14,4,lat2),prof(corrAssim14,5,lat1),prof(corrMeraFree,6,lat2),prof(corrMeraAssim,7,lat1)]},
 options:{scales:{x:dotted(axis(-.75,1,corrTicks,v=>v<0?'−'+String(-v):String(v),22,31,true)),y:dotted(axis(-20,70,profileLatTicks,latFmt,22,32,true))}}},
 (ctx,c,rx,ry)=>{const a=c.chartArea,xS=c.scales.x,yS=c.scales.y;
  seg(ctx,a.left,a.top,a.left,a.bottom,1.4,'#000');seg(ctx,a.left,a.bottom,a.right,a.bottom,2.8,'#555');
  corrTicks.forEach(v=>{const x=xS.getPixelForValue(v);seg(ctx,x,a.bottom,x,a.bottom+17*S,1.4,'#000');});
  profileLatTicks.forEach(v=>{const y=yS.getPixelForValue(v);seg(ctx,a.left,y,a.left-20*S,y,1.4,'#000');});
  text(ctx,'Correlation coefficient (MHT/MOC) over 1993–2001',rx(3352),ry(62),31);
  text(ctx,'95%',rx(3510),ry(1973),31,'center','#888');
  seriesNames.forEach((n,i)=>{const y=ry(889+i*42.1);seg(ctx,rx(3027),y,rx(3108),y,isThick[i]?5.5:1.5,colours[i]);text(ctx,n,rx(3116),y,32,'left');});
  const rowsO=[['Johns 2008 (RAPID data)','cross'],['Dynamo (model data)','star']];
  rowsO.forEach((o,i)=>{const y=ry(1225+i*43);ctx.save();ctx.strokeStyle='#888';ctx.fillStyle='rgba(0,0,0,0)';ctx.lineWidth=4.5*S;
   Chart.helpers.drawPoint(ctx,{pointStyle:o[1],radius:15*S,rotation:0,borderWidth:4.5*S},rx(3067),y);ctx.restore();text(ctx,o[0],rx(3116),y,32,'left');});
 });
const grayMk=(pts,st)=>({type:'scatter',showLine:false,clip:false,data:pts.map(p=>({x:p[0],y:p[1]})),pointStyle:st,pointRadius:15*S,pointBorderColor:'#888',pointBackgroundColor:'rgba(0,0,0,0)',pointBorderWidth:4.5*S,order:0});
mk([3742.8,97.8,4412,2036.6],[30,70,0,66],{type:'scatter',data:{datasets:[
  grayMk(johnsSlope,'cross'),grayMk(dynamoSlope,'star'),
  dashPts(-.0369,.15,48),dashPts(-.0369,.15,24),
  prof(slopeFree2,0,lat2),prof(slopeFree1,1,lat2),prof(slopeAssim1,2,lat1),prof(slopeFree12,3,lat2),prof(slopeFree14,4,lat2),prof(slopeAssim14,5,lat1),prof(slopeMeraFree,6,lat2),prof(slopeMeraAssim,7,lat1)]},
 options:{scales:{x:dotted(axis(-.0369,.15,slopeTicks,v=>v===.15?'':String(v),22,31,true)),y:dotted(axis(-20,70,profileLatTicks,v=>'',0,10,false))}}},
 (ctx,c,rx,ry)=>{const a=c.chartArea,xS=c.scales.x,yS=c.scales.y;
  seg(ctx,a.left,a.top,a.left,a.bottom,1.4,'#000');seg(ctx,a.left-20*S,a.bottom,a.right,a.bottom,2.8,'#555');
  slopeTicks.forEach(v=>{const x=xS.getPixelForValue(v);seg(ctx,x,a.bottom,x,a.bottom+17*S,1.4,'#000');});
  profileLatTicks.forEach(v=>{const y=yS.getPixelForValue(v);seg(ctx,a.left,y,a.left-20*S,y,1.4,'#000');});
  text(ctx,'Slope (MHT/MOC) PW/Sv',rx(4079),ry(62),31);
  text(ctx,'0.15',xS.getPixelForValue(.15),ry(2081),31);
 });
</script>
</body></html>
